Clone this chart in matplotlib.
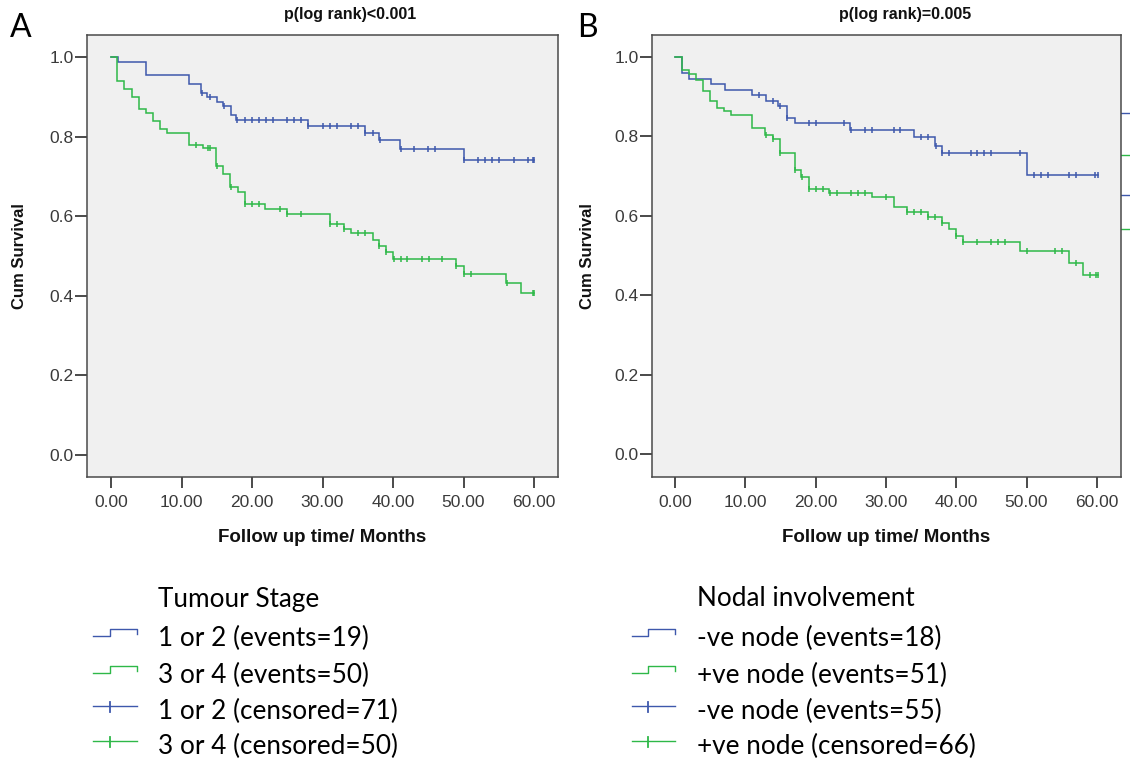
import numpy as np
import matplotlib
matplotlib.use("Agg")
import matplotlib.pyplot as plt
from matplotlib.lines import Line2D

# ---------------- data ----------------
# Panel A : Tumour stage
a_low_t = [0, 1.0, 5.0, 11.0, 12.8, 13.6, 15.0, 15.9, 17.0, 17.8, 28.0, 36.0, 38.0, 41.0, 50.0]
a_low_s = [1.0, 0.987, 0.956, 0.932, 0.910, 0.899, 0.888, 0.877, 0.854, 0.842, 0.826, 0.808, 0.791, 0.770, 0.741]
a_low_c = [12.9, 14.0, 16.0, 17.9, 19, 20, 21, 22, 23, 25, 26, 27, 28.0, 30, 31.1, 32.1, 34.1, 35.1,
           36.0, 37.1, 38.1, 41.1, 43, 45, 46, 50.1, 52.1, 53.1, 54.1, 55.1, 57.2, 59.2, 59.8, 60.0]

a_high_t = [0, 0.9, 1.9, 3.0, 4.0, 5.0, 6.0, 7.0, 8.0, 11.0, 13.0, 14.9, 15.9, 16.9, 18.0, 19.0, 21.9,
            24.9, 31.0, 33.0, 34.0, 37.1, 38.0, 39.0, 40.0, 49.0, 50.0, 56.0, 58.2]
a_high_s = [1.0, 0.939, 0.919, 0.899, 0.869, 0.860, 0.839, 0.819, 0.810, 0.778, 0.771, 0.727, 0.705,
            0.674, 0.662, 0.630, 0.618, 0.606, 0.581, 0.569, 0.557, 0.540, 0.526, 0.511, 0.493, 0.474,
            0.455, 0.432, 0.408]
a_high_c = [12.0, 13.8, 14.1, 15.0, 17.0, 19.0, 20.0, 21.0, 24.0, 25.0, 27.0, 31.0, 32.0, 33.1, 35.1,
            36.0, 38.0, 39.0, 40.1, 41.1, 42.0, 44.1, 45.1, 47.0, 49.0, 50.1, 51.1, 56.1, 59.8, 60.0]

# Panel B : Nodal involvement
b_neg_t = [0, 1.0, 2.0, 5.1, 7.1, 11.0, 13.0, 14.7, 15.9, 17.0, 24.9, 34.0, 37.0, 38.0, 50.1]
b_neg_s = [1.0, 0.959, 0.945, 0.932, 0.917, 0.904, 0.890, 0.877, 0.847, 0.833, 0.816, 0.798, 0.776,
           0.757, 0.703]
b_neg_c = [12.0, 14.0, 14.9, 16.0, 19.0, 20.0, 24.0, 25.0, 27.0, 28.0, 31.1, 32.0, 35.0, 36.0, 37.1,
           38.0, 39.0, 42.1, 43.0, 44.0, 45.0, 49.1, 51.1, 52.1, 53.1, 56.1, 57.0, 59.8, 60.1]

b_pos_t = [0, 1.0, 2.0, 3.0, 4.0, 5.0, 6.0, 7.0, 8.0, 11.0, 12.8, 14.0, 15.0, 17.0, 17.9, 19.0, 21.9,
           28.0, 31.1, 33.0, 36.0, 38.0, 39.0, 40.0, 41.0, 49.1, 56.0, 58.1]
b_pos_s = [1.0, 0.966, 0.956, 0.942, 0.914, 0.888, 0.871, 0.863, 0.854, 0.820, 0.804, 0.793, 0.759,
           0.715, 0.697, 0.668, 0.657, 0.647, 0.621, 0.609, 0.596, 0.581, 0.566, 0.549, 0.535, 0.512,
           0.482, 0.450]
b_pos_c = [12.9, 14.0, 15.0, 17.0, 18.0, 19.0, 20.0, 21.0, 22.0, 23.0, 25.0, 26.0, 27.0, 30.0, 33.0,
           34.0, 35.0, 36.0, 37.0, 38.0, 40.0, 41.0, 43.0, 45.0, 46.0, 47.0, 50.0, 54.1, 55.1, 57.0,
           59.1, 59.9, 60.1]

x_ticks = [0, 10, 20, 30, 40, 50, 60]
x_ticklabels = ["0.00", "10.00", "20.00", "30.00", "40.00", "50.00", "60.00"]
y_ticks = [0.0, 0.2, 0.4, 0.6, 0.8, 1.0]
y_ticklabels = ["0.0", "0.2", "0.4", "0.6", "0.8", "1.0"]

titles = ["p(log rank)<0.001", "p(log rank)=0.005"]
legend_titles = ["Tumour Stage", "Nodal involvement"]
legend_labels = [
    ["1 or 2 (events=19)", "3 or 4 (events=50)", "1 or 2 (censored=71)", "3 or 4 (censored=50)"],
    ["-ve node (events=18)", "+ve node (events=51)", "-ve node (events=55)", "+ve node (censored=66)"],
]

BLUE = "#3e58ac"
GREEN = "#2eb848"
W, H = 1130, 763

fig = plt.figure(figsize=(W / 100, H / 100), dpi=100)
fig.patch.set_facecolor("white")

# overlay in pixel coords for panel letters / legends
ov = fig.add_axes([0, 0, 1, 1])
ov.set_xlim(0, W)
ov.set_ylim(H, 0)
ov.axis("off")
ov.patch.set_visible(False)


def px_axes(left, top, right, bottom):
    return [left / W, 1 - bottom / H, (right - left) / W, (bottom - top) / H]


def draw_curve(ax, t, s, c, color):
    t = np.asarray(t, float)
    s = np.asarray(s, float)
    c = np.asarray(c, float)
    end = max(c.max(), t.max())
    ax.step(np.append(t, end), np.append(s, s[-1]), where="post", color=color, lw=1.1,
            solid_joinstyle="miter", zorder=3)
    idx = np.searchsorted(t, c, side="right") - 1
    ax.plot(c, s[idx], ls="none", marker="|", ms=5, mew=1.1, color=color, zorder=4)


panels = [
    dict(box=(87, 35, 558, 477), x0=111, k=7.05, y1=57, y0=455,
         curves=[(a_low_t, a_low_s, a_low_c, BLUE), (a_high_t, a_high_s, a_high_c, GREEN)]),
    dict(box=(652, 35, 1121, 477), x0=675, k=7.03, y1=57, y0=454,
         curves=[(b_neg_t, b_neg_s, b_neg_c, BLUE), (b_pos_t, b_pos_s, b_pos_c, GREEN)]),
]

for i, p in enumerate(panels):
    l, t_, r, b = p["box"]
    ax = fig.add_axes(px_axes(l, t_, r, b))
    ax.set_facecolor("#f0f0f0")
    ax.set_xlim((l - p["x0"]) / p["k"], (r - p["x0"]) / p["k"])
    ppu = p["y0"] - p["y1"]
    ax.set_ylim(-(b - p["y0"]) / ppu, 1 + (p["y1"] - t_) / ppu)
    for tt, ss, cc, col in p["curves"]:
        draw_curve(ax, tt, ss, cc, col)
    ax.set_xticks(x_ticks)
    ax.set_xticklabels(x_ticklabels)
    ax.set_yticks(y_ticks)
    ax.set_yticklabels(y_ticklabels)
    for sp in ax.spines.values():
        sp.set_color("#4a4a4a")
        sp.set_linewidth(1.1)
    ax.tick_params(axis="x", direction="out", length=8, width=1.4, color="#4a4a4a",
                   pad=5, labelsize=12.5, labelcolor="#3a3a3a")
    ax.tick_params(axis="y", direction="out", length=8.6, width=1.4, color="#4a4a4a",
                   pad=1, labelsize=12.5, labelcolor="#3a3a3a")
    for lab in ax.get_xticklabels() + ax.get_yticklabels():
        lab.set_family("Liberation Sans")
    ax.set_xlabel("Follow up time/ Months", fontsize=13.5, fontweight="bold",
                  family="Liberation Sans", color="#111111")
    ax.xaxis.label.set_va("center")
    ax.xaxis.set_label_coords(0.5, (b - 538) / (b - t_))
    ax.set_ylabel("Cum Survival", fontsize=12, fontweight="bold",
                  family="Liberation Sans", color="#111111")
    ax.yaxis.label.set_va("center")
    ax.yaxis.set_label_coords(((20 if i == 0 else 588) - l) / (r - l), 0.5)

# titles
ov.text(350, 15, titles[0], ha="center", va="center", fontsize=11.5, fontweight="bold",
        family="Liberation Sans", color="#111111")
ov.text(905, 15, titles[1], ha="center", va="center", fontsize=11.5, fontweight="bold",
        family="Liberation Sans", color="#111111")

# panel letters
ov.text(10, 37, "A", ha="left", va="baseline", fontsize=23, family="Lato", color="black")
ov.text(577, 37, "B", ha="left", va="baseline", fontsize=23, family="Lato", color="black")

# legends
leg_x = [(93, 110, 137, 158), (632, 648, 675, 697)]
row_y = [638, 675, 711, 746]
cols = [BLUE, GREEN, BLUE, GREEN]
for j in range(2):
    x_a, x_m, x_b, x_t = leg_x[j]
    ov.text(x_t, 599, legend_titles[j], ha="left", va="center", fontsize=18.8,
            family="Lato", color="black")
    for k, (yy, col, lab) in enumerate(zip(row_y, cols, legend_labels[j])):
        if k < 2:
            lo, hi = yy - 2.5, yy - 9
            ov.add_line(Line2D([x_a, x_m, x_m, x_b, x_b], [lo, lo, hi, hi, hi + 4.5],
                               color=col, lw=1.0))
        else:
            ly = yy - 5
            ov.add_line(Line2D([x_a, x_b], [ly, ly], color=col, lw=1.0))
            ov.add_line(Line2D([x_m, x_m], [ly - 4, ly + 6], color=col, lw=1.3))
        ov.text(x_t, yy, lab, ha="left", va="center", fontsize=18.8, family="Lato", color="black")

# clipped legend fragments at right edge of panel B
for yy, col in zip([112.7, 155.3, 195, 228.7], cols):
    ov.add_line(Line2D([1121, 1130], [yy, yy], color=col, lw=1.0))

fig.savefig("out.png", dpi=100, facecolor="white")
